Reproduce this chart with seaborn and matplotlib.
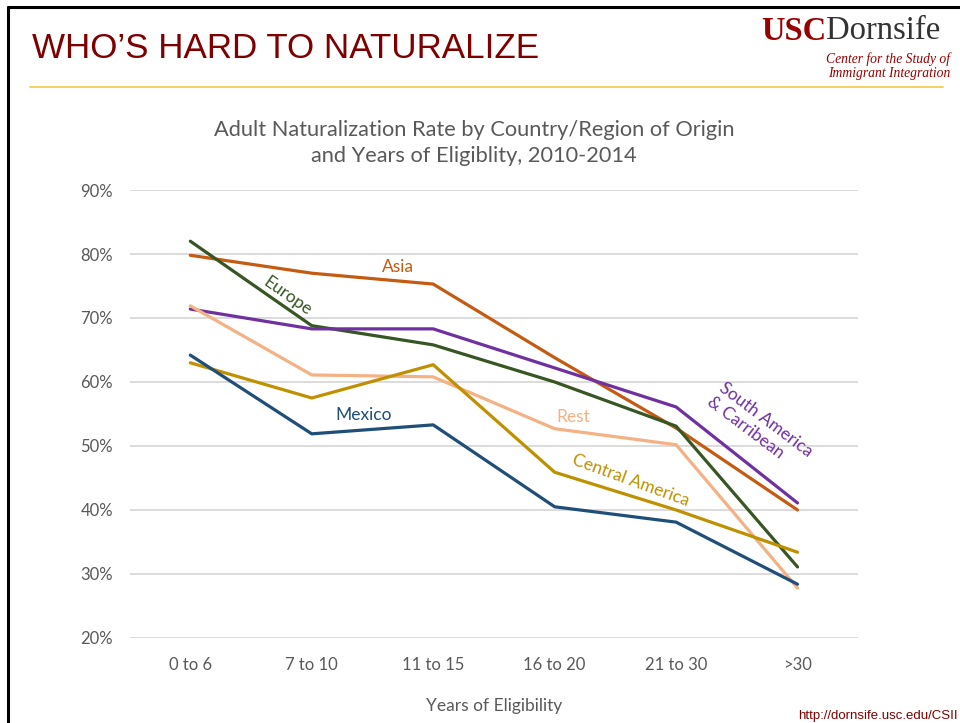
import matplotlib
matplotlib.use("Agg")
import matplotlib.pyplot as plt
from matplotlib.lines import Line2D
import seaborn as sns
import pandas as pd

# data
years = ["0 to 6", "7 to 10", "11 to 15", "16 to 20", "21 to 30", ">30"]
asia = [79.8, 77.0, 75.3, 63.8, 52.8, 40.0]
europe = [82.0, 68.8, 65.8, 60.0, 53.1, 31.1]
south_am = [71.4, 68.3, 68.3, 62.2, 56.1, 41.1]
rest = [71.9, 61.1, 60.8, 52.7, 50.2, 27.8]
central_am = [63.0, 57.5, 62.7, 45.9, 40.0, 33.4]
mexico = [64.2, 51.9, 53.3, 40.5, 38.1, 28.4]

series = {
    "Asia": asia,
    "Europe": europe,
    "South America & Carribean": south_am,
    "Rest": rest,
    "Central America": central_am,
    "Mexico": mexico,
}
colors = {
    "Asia": "#C55A11",
    "Europe": "#375623",
    "South America & Carribean": "#7030A0",
    "Rest": "#F4B183",
    "Central America": "#BF9000",
    "Mexico": "#1F4E79",
}

rows = []
for name, vals in series.items():
    for i, v in enumerate(vals):
        rows.append({"region": name, "idx": i, "rate": v})
df = pd.DataFrame(rows)

sns.set_theme(style="white")
plt.rcParams["font.family"] = ["Lato", "DejaVu Sans"]
gray = "#595959"

fig = plt.figure(figsize=(9.6, 7.23), dpi=100)
ax = fig.add_axes([0.135, 0.1176, 0.759, 0.6196])

sns.lineplot(data=df, x="idx", y="rate", hue="region", palette=colors,
             linewidth=2.3, legend=False, ax=ax, sort=False)

ax.set_xlim(-0.5, 5.5)
ax.set_ylim(20, 90)
ax.set_yticks(range(20, 91, 10))
ax.set_yticklabels([f"{v}%" for v in range(20, 91, 10)])
ax.set_xticks(range(len(years)))
ax.set_xticklabels(years)
ax.tick_params(axis="x", length=0, pad=14, labelsize=12, labelcolor=gray)
ax.tick_params(axis="y", length=0, pad=12, labelsize=12, labelcolor=gray)
ax.grid(axis="y", color="#D9D9D9", linewidth=1.3)
ax.set_axisbelow(True)
for s in ax.spines.values():
    s.set_visible(False)
ax.set_xlabel("Years of Eligibility", fontsize=12.5, color=gray, labelpad=18)
ax.set_ylabel("")
fig.text(474 / 960, 1 - 143 / 723,
         "Adult Naturalization Rate by Country/Region of Origin\nand Years of Eligiblity, 2010-2014",
         fontsize=15.7, color=gray, ha="center", va="center", linespacing=1.4)

# in-chart labels
ax.text(1.71, 78.0, "Asia", color=colors["Asia"], fontsize=12.5, ha="center", va="center")
ax.text(0.80, 73.4, "Europe", color=colors["Europe"], fontsize=12.5, ha="center", va="center", rotation=-35)
ax.text(1.43, 54.8, "Mexico", color=colors["Mexico"], fontsize=12.5, ha="center", va="center")
ax.text(3.15, 54.5, "Rest", color=colors["Rest"], fontsize=12.5, ha="center", va="center")
ax.text(3.63, 44.7, "Central America", color=colors["Central America"], fontsize=12.5,
        ha="center", va="center", rotation=-20)
ax.text(4.69, 53.0, "South America\n& Carribean", color=colors["South America & Carribean"],
        fontsize=12.5, ha="center", va="center", rotation=-37, multialignment="left",
        rotation_mode="anchor")

# slide decoration
red = "#7F0000"
fig.text(32 / 960, 1 - 48 / 723, "WHO\u2019S HARD TO NATURALIZE", color=red, fontsize=25.2,
         family="Liberation Sans", ha="left", va="center")
fig.add_artist(Line2D([30 / 960, 943 / 960], [1 - 87 / 723] * 2, color="#F5CD55", linewidth=1.3))
fig.add_artist(Line2D([8 / 960, 8 / 960], [0, 1 - 7 / 723], color="black", linewidth=2.2))
fig.add_artist(Line2D([8 / 960, 1], [1 - 7 / 723] * 2, color="black", linewidth=2.2))
fig.text(826 / 960, 1 - 31 / 723, "USC", color="#990000", fontsize=23.5, family="Liberation Serif",
         weight="bold", ha="right", va="center")
fig.text(826 / 960, 1 - 31 / 723, "Dornsife", color="#333333", fontsize=23.5, family="Liberation Serif",
         ha="left", va="center")
fig.text(950 / 960, 1 - 59 / 723, "Center for the Study of", color="#990000", fontsize=9.8,
         family="Liberation Serif", style="italic", ha="right", va="center")
fig.text(950 / 960, 1 - 73 / 723, "Immigrant Integration", color="#990000", fontsize=9.8,
         family="Liberation Serif", style="italic", ha="right", va="center")
fig.text(958 / 960, 1 - 716 / 723, "http://dornsife.usc.edu/CSII", color=red, fontsize=9.5,
         family="Liberation Sans", ha="right", va="center")

fig.savefig("out.png", dpi=100, facecolor="white")
